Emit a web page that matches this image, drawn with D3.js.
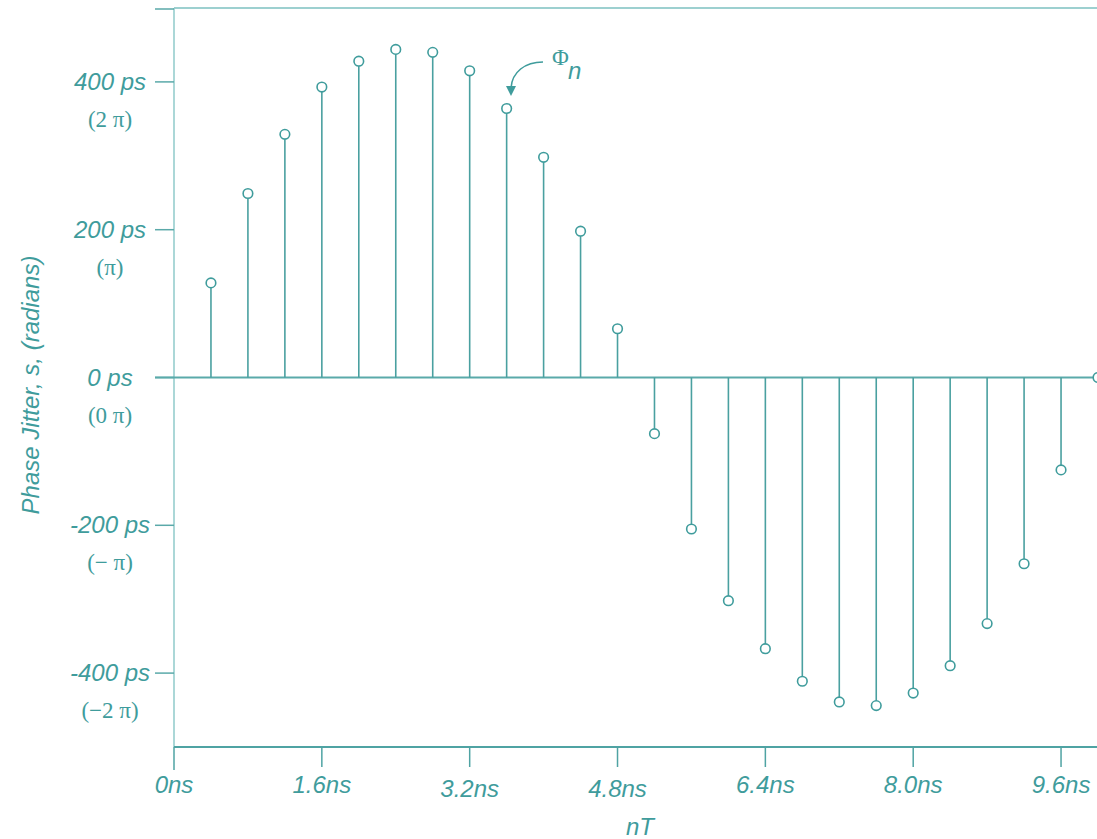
<!DOCTYPE html>
<html>
<head>
<meta charset="utf-8">
<script src="https://cdn.jsdelivr.net/npm/d3@7"></script>
<style>
  body { margin: 0; background: #fff; }
  svg { display: block; }
  .lab { font-family: "Liberation Sans", Arial, sans-serif; font-style: italic; fill: #3f9c9c; }
  .pi { font-family: "Liberation Serif", "Times New Roman", serif; fill: #3f9c9c; }
</style>
</head>
<body>
<svg id="chart" width="1097" height="839"></svg>
<script>
// sample index n, time = n * 0.4ns
const sampleIdx = d3.range(1, 26);
// phase jitter in ps
const jitterPs = [128, 249, 329, 393, 428, 444, 440, 415, 364, 298, 198, 66,
  -76, -205, -302, -367, -411, -439, -444, -427, -390, -333, -252, -125, 0];
const xTicks = [0, 1.6, 3.2, 4.8, 6.4, 8.0, 9.6];
const xTickLabels = ['0ns', '1.6ns', '3.2ns', '4.8ns', '6.4ns', '8.0ns', '9.6ns'];
const yTicks = [400, 200, 0, -200, -400];
const yTickLabels = ['400 ps', '200 ps', '0 ps', '-200 ps', '-400 ps'];
const yPiLabels = ['(2 \u03c0)', '(\u03c0)', '(0 \u03c0)', '(\u2212 \u03c0)', '(\u22122 \u03c0)'];

const teal = '#3f9c9c';
const svg = d3.select('#chart');

const x = d3.scaleLinear().domain([0, 10]).range([174, 1098]);
const y = d3.scaleLinear().domain([-500, 500]).range([747, 8]);

const data = sampleIdx.map((n, i) => ({ t: n * 0.4, v: jitterPs[i] }));

// frame: top line and left axis
svg.append('line')
  .attr('x1', x(0)).attr('x2', 1097).attr('y1', y(500)).attr('y2', y(500))
  .attr('stroke', '#7cc0c0').attr('stroke-width', 1.5);
svg.append('line')
  .attr('x1', x(0)).attr('x2', x(0)).attr('y1', y(500)).attr('y2', y(-500))
  .attr('stroke', '#8fcaca').attr('stroke-width', 1.5);
svg.append('line')
  .attr('x1', 155).attr('x2', x(0)).attr('y1', y(500) + 1).attr('y2', y(500) + 1)
  .attr('stroke', '#5aa9a9').attr('stroke-width', 1.5);

// y ticks and labels
const yt = svg.append('g').selectAll('g').data(yTicks).join('g')
  .attr('transform', d => `translate(0,${y(d)})`);
yt.append('line').attr('x1', 155).attr('x2', x(0))
  .attr('stroke', '#5aa9a9').attr('stroke-width', 1.5);
yt.append('text').attr('class', 'lab')
  .attr('x', 110).attr('y', 8).attr('text-anchor', 'middle')
  .style('font-size', '24px')
  .text((d, i) => yTickLabels[i]);
yt.append('text').attr('class', 'pi')
  .attr('x', 110).attr('y', 45).attr('text-anchor', 'middle')
  .style('font-size', '23px')
  .text((d, i) => yPiLabels[i]);

// zero line
svg.append('line')
  .attr('x1', 155).attr('x2', 1097).attr('y1', y(0)).attr('y2', y(0))
  .attr('stroke', '#5aaaaa').attr('stroke-width', 2);

// bottom axis
svg.append('line')
  .attr('x1', x(0)).attr('x2', 1097).attr('y1', y(-500)).attr('y2', y(-500))
  .attr('stroke', '#4fa3a3').attr('stroke-width', 2);
const xt = svg.append('g').selectAll('g').data(xTicks).join('g')
  .attr('transform', d => `translate(${x(d)},${y(-500)})`);
xt.append('line').attr('y1', 0).attr('y2', (d, i) => i === 0 ? 23 : 20)
  .attr('stroke', '#4fa3a3').attr('stroke-width', 1.5);
xt.append('text').attr('class', 'lab')
  .attr('x', 0).attr('y', (d, i) => (i === 2 || i === 3) ? 50 : 46)
  .attr('text-anchor', 'middle')
  .style('font-size', '24px')
  .text((d, i) => xTickLabels[i]);

// stems and circles
const st = svg.append('g').selectAll('g').data(data).join('g');
st.append('line')
  .attr('x1', d => x(d.t)).attr('x2', d => x(d.t))
  .attr('y1', y(0))
  .attr('y2', d => d.v > 0 ? y(d.v) + 4.8 : d.v < 0 ? y(d.v) - 4.8 : y(0))
  .attr('stroke', '#4aa0a0').attr('stroke-width', 1.6);
st.append('circle')
  .attr('cx', d => x(d.t)).attr('cy', d => y(d.v)).attr('r', 4.8)
  .attr('fill', '#fff').attr('stroke', '#3f9c9c').attr('stroke-width', 1.6);

// annotation: Phi_n with curved arrow
svg.append('path')
  .attr('d', 'M543,62 C525,62 512,72 511,88')
  .attr('fill', 'none').attr('stroke', teal).attr('stroke-width', 1.6);
svg.append('path')
  .attr('d', 'M506,86 L516,86 L511,96 Z')
  .attr('fill', teal);
svg.append('text').attr('class', 'pi')
  .attr('x', 552).attr('y', 65).style('font-size', '23px').text('\u03a6');
svg.append('text').attr('class', 'lab')
  .attr('x', 568).attr('y', 79).style('font-size', '24px').text('n');

// axis titles
svg.append('text').attr('class', 'lab')
  .attr('transform', 'translate(39,385) rotate(-90)')
  .attr('text-anchor', 'middle')
  .style('font-size', '24px')
  .text('Phase Jitter, s, (radians)');
svg.append('text').attr('class', 'lab')
  .attr('x', 640).attr('y', 835).attr('text-anchor', 'middle')
  .style('font-size', '24px')
  .text('nT');
</script>
</body>
</html>
